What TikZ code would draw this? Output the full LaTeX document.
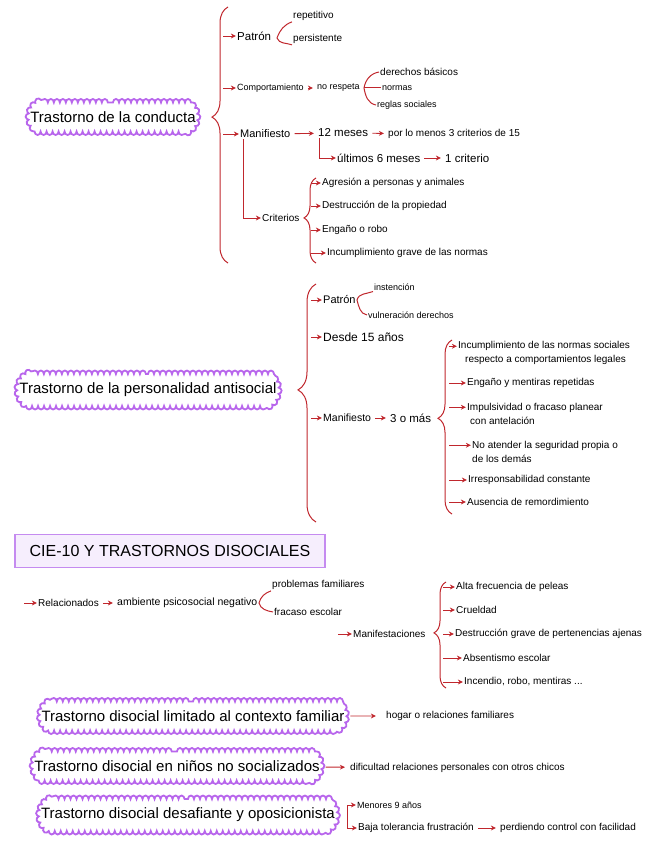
\documentclass[tikz,border=0pt]{standalone}
\usepackage{fontspec}
\setmainfont{Liberation Sans}
\usepackage{xcolor}
\usetikzlibrary{arrows.meta,decorations.pathreplacing,decorations.pathmorphing,shapes.misc}
\definecolor{rojo}{HTML}{C0272D}
\definecolor{lila}{HTML}{B866EC}
\definecolor{lila2}{HTML}{C58BF0}
\definecolor{lavanda}{HTML}{F6EEFD}

\begin{document}
\begin{tikzpicture}[x=1pt,y=-1pt,txt/.style={anchor=west,inner sep=1pt,align=left,font=\fontsize{10}{13.5}\selectfont},chico/.style={txt,font=\fontsize{9}{11}\selectfont},grande/.style={txt,font=\fontsize{11.5}{13}\selectfont},nube/.style={shape=rounded rectangle,rounded rectangle arc length=120,draw=lila,line width=1.8pt,inner xsep=0pt,inner ysep=9pt,font=\fontsize{15}{17}\selectfont,decorate,decoration={bumps,segment length=12pt,amplitude=3.5pt}},titulo/.style={draw=lila2,line width=1.3pt,fill=lavanda,minimum width=310pt,minimum height=33pt,font=\fontsize{16}{18}\selectfont},arr/.style={-{Stealth[length=1.8mm,width=1.7mm]},draw=rojo,line width=0.9pt},sig/.style={arr,shorten <=3pt,shorten >=3pt},linea/.style={draw=rojo,line width=1pt},llave/.style={linea,decorate,decoration={brace,amplitude=#1}}]
\useasboundingbox (0,0) rectangle (656,848);
% trastorno de la conducta
\node[nube] (conducta) at (113,117) {Trastorno de la conducta};
\coordinate (b1a) at (228,7);
\coordinate (b1b) at (228,263);
\coordinate (r1) at (223,0);
\draw[llave=16pt,decoration={aspect=0.57}] (b1b) -- (b1a);
\node[txt,font=\fontsize{11.5}{13}\selectfont] (patron1) at (236,36) {Patrón};
\node[txt] (rep) at (292,16) {repetitivo};
\node[txt] (pers) at (292,39) {persistente};
\coordinate (f1) at (277,38);
\draw[arr] (r1 |- patron1.west) -- (patron1.west);
\draw[linea] (rep.south west) to[out=200,in=70] (f1) to[out=-70,in=160] (pers.south west);
\node[txt,font=\fontsize{9}{11}\selectfont] (comp) at (236,88) {Comportamiento};
\node[txt,font=\fontsize{9}{11}\selectfont] (resp) at (316,88) {no respeta};
\node[txt] (der) at (379,72) {derechos básicos};
\node[chico] (nor) at (381,88) {normas};
\node[chico] (reg) at (376,105) {reglas sociales};
\coordinate (f2) at (364,88);
\draw[arr] (r1 |- comp.west) -- (comp.west);
\draw[sig] (comp) -- (resp);
\draw[linea] (der.west) to[out=190,in=80] (f2) to[out=-80,in=170] (reg.west);
\draw[linea] (f2) -- (nor);
\node[txt,font=\fontsize{11}{13}\selectfont] (manif1) at (239,134) {Manifiesto};
\node[grande] (doce) at (317,133) {12 meses};
\node[txt] (porlo) at (387,134) {por lo menos 3 criterios de 15};
\node[grande] (ult) at (336,158) {últimos 6 meses};
\node[grande] (uno) at (444,158) {1 criterio};
\draw[arr] (r1 |- manif1.west) -- (manif1.west);
\draw[sig] (manif1) -- (doce);
\draw[sig] (doce) -- (porlo);
\draw[arr] ([xshift=2pt]doce.south west) |- (ult.west);
\draw[sig] (ult) -- (uno);
\node[txt] (crit) at (261,218) {Criterios};
\draw[arr] ([xshift=4pt]manif1.south west) |- (crit.west);
\coordinate (b2a) at (316,178);
\coordinate (b2b) at (316,263);
\coordinate (r2) at (311,0);
\draw[llave=12pt,decoration={aspect=0.53}] (b2b) -- (b2a);
\node[txt] (agr) at (321,183) {Agresión a personas y animales};
\node[txt] (des) at (321,206) {Destrucción de la propiedad};
\node[txt] (eng) at (321,230) {Engaño o robo};
\node[txt] (inc1) at (326,253) {Incumplimiento grave de las normas};
\foreach \n in {agr,des,eng,inc1} \draw[arr] (r2 |- \n.west) -- (\n.west);
% personalidad antisocial
\node[nube] (antisocial) at (148,390) {Trastorno de la personalidad antisocial};
\coordinate (b3a) at (316,284);
\coordinate (b3b) at (316,522);
\coordinate (r3) at (311,0);
\draw[llave=18pt,decoration={aspect=0.555}] (b3b) -- (b3a);
\node[txt,font=\fontsize{11}{13}\selectfont] (patron2) at (322,300) {Patrón};
\node[chico] (inst) at (373,287) {instención};
\node[chico] (vuln) at (367,315) {vulneración derechos};
\coordinate (f3) at (357,300);
\draw[arr] (r3 |- patron2.west) -- (patron2.west);
\draw[linea] (inst.south west) to[out=200,in=75] (f3) to[out=-75,in=170] (vuln.west);
\node[txt,font=\fontsize{12}{14}\selectfont] (desde) at (322,337) {Desde 15 años};
\draw[arr] (r3 |- desde.west) -- (desde.west);
\node[txt,font=\fontsize{10.5}{12}\selectfont] (manif2) at (322,418) {Manifiesto};
\node[grande] (tres) at (389,418) {3 o más};
\draw[arr] (r3 |- manif2.west) -- (manif2.west);
\draw[sig] (manif2) -- (tres);
\coordinate (b4a) at (452,340);
\coordinate (b4b) at (452,514);
\coordinate (r4) at (449,0);
\draw[llave=14pt,decoration={aspect=0.55}] (b4b) -- (b4a);
\node[txt] (inc2) at (457,353) {Incumplimiento de las normas sociales\\\hspace*{7pt}respecto a comportamientos legales};
\node[txt] (eng2) at (466,383) {Engaño y mentiras repetidas};
\node[txt] (imp) at (466,414) {Impulsividad o fracaso planear\\\hspace*{3pt}con antelación};
\node[txt] (noat) at (471,452) {No atender la seguridad propia o\\de los demás};
\node[txt] (irr) at (467,480) {Irresponsabilidad constante};
\node[txt] (aus) at (466,502) {Ausencia de remordimiento};
\foreach \n in {inc2,imp,noat} \draw[arr] ([yshift=6.75pt]r4 |- \n.west) -- ([yshift=6.75pt]\n.west);
\foreach \n in {eng2,irr,aus} \draw[arr] (r4 |- \n.west) -- (\n.west);
% CIE-10
\node[titulo] (cie) at (170,551) {CIE-10 Y TRASTORNOS DISOCIALES};
\coordinate (r5) at (24,603);
\node[txt] (rel) at (37,603) {Relacionados};
\node[txt,font=\fontsize{10.5}{12}\selectfont] (amb) at (116,603) {ambiente psicosocial negativo};
\node[txt] (prob) at (271,585) {problemas familiares};
\node[txt] (frac) at (273,612) {fracaso escolar};
\coordinate (f4) at (259,603);
\draw[arr] (r5) -- (rel);
\draw[sig] (rel) -- (amb);
\draw[linea] (prob.south west) to[out=200,in=75] (f4) to[out=-75,in=170] (frac.west);
\coordinate (r6) at (338,634);
\node[txt] (manif3) at (352,634) {Manifestaciones};
\draw[arr] (r6) -- (manif3);
\coordinate (b5a) at (446,582);
\coordinate (b5b) at (446,688);
\coordinate (r7) at (443,0);
\draw[llave=12pt,decoration={aspect=0.52}] (b5b) -- (b5a);
\node[txt] (alta) at (455,587) {Alta frecuencia de peleas};
\node[txt] (cru) at (455,610) {Crueldad};
\node[txt] (dest3) at (454,634) {Destrucción grave de pertenencias ajenas};
\node[txt] (abs) at (462,658) {Absentismo escolar};
\node[txt] (incen) at (463,682) {Incendio, robo, mentiras ...};
\foreach \n in {alta,cru,dest3,abs,incen} \draw[arr] (r7 |- \n.west) -- (\n.west);
% trastornos disociales
\node[nube] (familiar) at (193,716) {Trastorno disocial limitado al contexto familiar};
\node[txt] (hogar) at (385,716) {hogar o relaciones familiares};
\draw[arr,shorten <=4pt,shorten >=9pt] (familiar) -- (hogar);
\node[nube] (nosoc) at (177,766) {Trastorno disocial en niños no socializados};
\node[txt] (dif) at (349,768) {dificultad relaciones personales con otros chicos};
\draw[arr,shorten <=4pt,shorten >=4pt] (nosoc) -- (dif);
\node[nube] (desaf) at (188,815) {Trastorno disocial desafiante y oposicionista};
\coordinate (k1) at (347,805);
\coordinate (k2) at (347,828);
\node[chico] (men) at (356,805) {Menores 9 años};
\node[txt] (baja) at (357,828) {Baja tolerancia frustración};
\node[txt] (perd) at (499,828) {perdiendo control con facilidad};
\draw[linea] (k1) -- (k2);
\draw[arr] (k1) -- (men);
\draw[arr] (k2) -- (baja);
\draw[sig] (baja) -- (perd);
\end{tikzpicture}
\end{document}
